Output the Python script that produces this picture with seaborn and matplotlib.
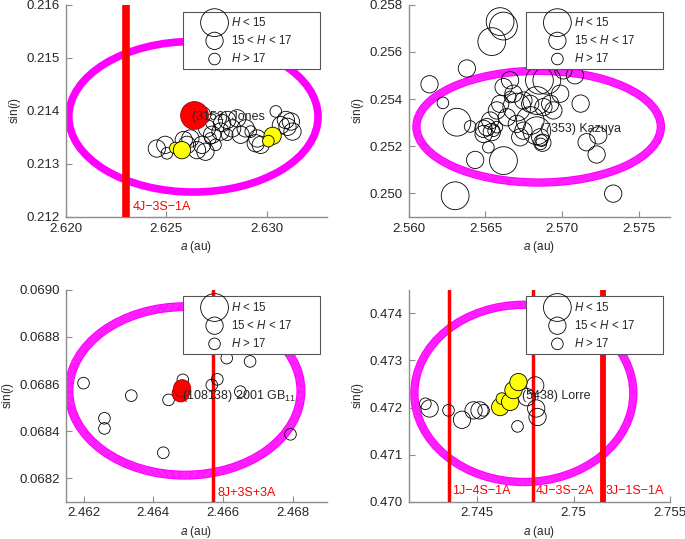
import pandas as pd
import matplotlib.pyplot as plt
import seaborn as sns
from matplotlib.patches import Ellipse
from matplotlib.ticker import FormatStrFormatter

# ── H classes (legend labels) ─────────────────────────────────
BIG = "$H$ < 15"
MID = "15 < $H$ < 17"
SML = "$H$ > 17"
H_ORDER = [BIG, MID, SML]

# ── Panel 1: (3152) Jones ─────────────────────────────────────
jones_a = [2.62453, 2.62495, 2.62503, 2.62587, 2.62620, 2.62603, 2.62678, 2.62695,
           2.62720, 2.62728, 2.62703, 2.62737, 2.62778, 2.62803, 2.62828, 2.62853,
           2.62870, 2.62895, 2.62920, 2.62953, 2.62945, 2.62970, 2.63045, 2.63070,
           2.63095, 2.63103, 2.63128, 2.63120, 2.62678, 2.62770, 2.62653, 2.62803,
           2.62745]
jones_sini = [0.21329, 0.21336, 0.21320, 0.21345, 0.21348, 0.21336, 0.21336, 0.21323,
              0.21348, 0.21355, 0.21367, 0.21380, 0.21377, 0.21383, 0.21367, 0.21386,
              0.21355, 0.21367, 0.21361, 0.21348, 0.21339, 0.21336, 0.21399, 0.21373,
              0.21383, 0.21370, 0.21361, 0.21380, 0.21392, 0.21361, 0.21326, 0.21355,
              0.21336]
jones_h = [MID, MID, SML, MID, MID, MID, MID, MID, SML, MID, MID, MID, MID, MID, MID, MID,
           MID, MID, SML, MID, MID, MID, SML, MID, MID, MID, MID, MID, MID, MID, MID, SML,
           SML]
jones_yel_a = [2.62545, 2.62578, 2.63029, 2.63008]
jones_yel_sini = [0.21330, 0.21326, 0.21353, 0.21343]
jones_yel_h = [SML, MID, MID, SML]
jones_red_a = [2.62637]
jones_red_sini = [0.21392]
jones_red_h = [BIG]

# ── Panel 2: (7353) Kazuya ────────────────────────────────────
kazuya_a = [2.56595, 2.56617, 2.56541, 2.56303, 2.56617, 2.56314, 2.56379, 2.56136,
            2.56433, 2.57158, 2.57223, 2.57119, 2.57234, 2.57331, 2.56223, 2.56400,
            2.56519, 2.56851, 2.57082, 2.56660, 2.56618, 2.56682, 2.56596, 2.56531,
            2.56509, 2.56553, 2.56639, 2.56704, 2.56747, 2.56791, 2.56834, 2.56877,
            2.56921, 2.56942, 2.56986, 2.56791, 2.56834, 2.56856, 2.56866, 2.56747,
            2.56704, 2.56661, 2.56899, 2.57007, 2.56726, 2.56574, 2.56488, 2.56487,
            2.56541, 2.56574, 2.56860, 2.56870]
kazuya_sini = [0.25729, 0.25710, 0.25644, 0.24990, 0.25139, 0.25302, 0.25530, 0.25463,
               0.25142, 0.25217, 0.25165, 0.25381, 0.25246, 0.24999, 0.25384, 0.25284,
               0.25196, 0.25480, 0.25501, 0.25480, 0.25451, 0.25423, 0.25380, 0.25309,
               0.25281, 0.25266, 0.25323, 0.25366, 0.25394, 0.25380, 0.25394, 0.25366,
               0.25380, 0.25352, 0.25423, 0.25309, 0.25266, 0.25238, 0.25224, 0.25266,
               0.25295, 0.25409, 0.25480, 0.25522, 0.25238, 0.25352, 0.25252, 0.25274,
               0.25260, 0.25281, 0.25210, 0.25215]
kazuya_h = [BIG, BIG, BIG, BIG, BIG, BIG, MID, MID, MID, MID, MID, MID, MID, MID, SML, SML,
            SML, BIG, MID, MID, MID, MID, MID, MID, MID, SML, MID, BIG, MID, MID, BIG, MID,
            MID, MID, MID, BIG, BIG, MID, SML, MID, MID, SML, BIG, MID, MID, MID, MID, MID,
            MID, SML, SML, MID]

# ── Panel 3: (108138) 2001 GB11 ───────────────────────────────
gb11_a = [2.46200, 2.46260, 2.46260, 2.46337, 2.46429, 2.46444, 2.46485, 2.46568,
          2.46584, 2.46611, 2.46678, 2.46650, 2.46794]
gb11_sini = [0.068604, 0.068455, 0.068412, 0.068551, 0.068309, 0.068533, 0.068618,
             0.068596, 0.068620, 0.068710, 0.068696, 0.068568, 0.068387]
gb11_h = [SML] * 13
gb11_red_a = [2.46479, 2.46483]
gb11_red_sini = [0.068561, 0.068582]
gb11_red_h = [MID, MID]

# ── Panel 4: (5438) Lorre ─────────────────────────────────────
lorre_a = [2.74231, 2.74253, 2.74351, 2.74421, 2.74481, 2.74512, 2.74533, 2.74709,
           2.74801, 2.74806, 2.74813, 2.74757, 2.74688]
lorre_sini = [0.47208, 0.47198, 0.47194, 0.47174, 0.47194, 0.47194, 0.47194, 0.47160,
              0.47247, 0.47198, 0.47180, 0.47222, 0.47233]
lorre_h = [SML, MID, SML, MID, MID, MID, SML, SML, MID, MID, MID, MID, SML]
lorre_yel_a = [2.74619, 2.74628, 2.74671, 2.74688, 2.74714]
lorre_yel_sini = [0.47201, 0.47219, 0.47212, 0.47237, 0.47254]
lorre_yel_h = [MID, SML, MID, MID, MID]

# ── Set plot style ────────────────────────────────────────────
sns.set_style("ticks")
plt.rcParams['font.family'] = ['Liberation Sans', 'DejaVu Sans']
plt.rcParams['mathtext.fontset'] = 'custom'
plt.rcParams['mathtext.rm'] = 'Liberation Sans'
plt.rcParams['mathtext.it'] = 'Liberation Sans:italic'

SIZES = {BIG: 400, MID: 155, SML: 70}
SPINE = '#8c8c8c'


def draw_ring(ax, center, width, height, lw, textured=True):
    ax.add_patch(Ellipse(center, width, height, fill=False, edgecolor='#ff00ff',
                         lw=lw, zorder=2))
    if textured:
        # fine light stripes so the ring looks like a chain of small open circles
        ax.add_patch(Ellipse(center, width, height, fill=False, edgecolor='white',
                             lw=lw - 1.5, alpha=0.4, linestyle=(0, (0.05, 0.12)),
                             zorder=2))


def draw_points(ax, a, sini, h, face, edge='black'):
    df = pd.DataFrame({'a': a, 'sini': sini, 'H': h})
    sns.scatterplot(data=df, x='a', y='sini', size='H', sizes=SIZES, size_order=H_ORDER,
                    facecolor=face, edgecolor=edge, linewidth=0.6, legend=False,
                    ax=ax, zorder=4 if face == 'none' else 5)


def setup_axes(ax, xlim, ylim, xticks, yticks, xfmt, yfmt):
    ax.set_xlim(xlim)
    ax.set_ylim(ylim)
    ax.set_xticks(xticks)
    ax.set_yticks(yticks)
    ax.xaxis.set_major_formatter(FormatStrFormatter(xfmt))
    ax.yaxis.set_major_formatter(FormatStrFormatter(yfmt))
    sns.despine(ax=ax)
    for sp in ['left', 'bottom']:
        ax.spines[sp].set_color(SPINE)
        ax.spines[sp].set_linewidth(1.0)
    ax.tick_params(direction='in', length=4, color=SPINE, labelsize=9.5, pad=4)
    ax.set_xlabel("$a$ (au)", fontsize=8.5, labelpad=3)
    ax.set_ylabel("sin($i$)", fontsize=8.5, labelpad=3)
    handles = [ax.scatter([], [], s=SIZES[k], facecolors='none', edgecolors='black',
                          linewidths=0.6, label=k) for k in H_ORDER]
    leg = ax.legend(handles=handles, loc='upper right', mode='expand',
                    bbox_to_anchor=(0.448, 0.70, 0.525, 0.268), borderaxespad=0,
                    fontsize=8.3, frameon=True, fancybox=False, framealpha=1,
                    edgecolor='#555555', labelspacing=0.45, handlelength=4.8,
                    handletextpad=-0.95, borderpad=0.35, scatterpoints=1)
    leg.get_frame().set_linewidth(0.8)
    leg.set_zorder(10)


fig, axes = plt.subplots(2, 2, figsize=(6.85, 5.39), dpi=100)
plt.subplots_adjust(left=0.096, right=0.978, bottom=0.069, top=0.991,
                    wspace=0.312, hspace=0.343)

# ── Panel 1 ───────────────────────────────────────────────────
ax = axes[0, 0]
draw_ring(ax, (2.62635, 0.21389), 0.0124, 0.00284, 5.5, textured=False)
ax.axvline(2.6230, color='#ff0000', lw=5.5, zorder=3)
ax.text(2.62335, 0.21219, "4J\u22123S\u22121A", color='#ff0000', fontsize=9,
        ha='left', va='center', zorder=6)
draw_points(ax, jones_a, jones_sini, jones_h, 'none')
draw_points(ax, jones_yel_a, jones_yel_sini, jones_yel_h, '#ffff00')
draw_points(ax, jones_red_a, jones_red_sini, jones_red_h, '#ff0000', edge='#aa0000')
ax.text(2.6263, 0.21388, "(3152) Jones", fontsize=9, ha='left', va='center', zorder=7)
setup_axes(ax, (2.620, 2.6330), (0.212, 0.216), [2.620, 2.625, 2.630],
           [0.212, 0.213, 0.214, 0.215, 0.216], '%.3f', '%.3f')

# ── Panel 2 ───────────────────────────────────────────────────
ax = axes[0, 1]
draw_ring(ax, (2.56846, 0.25283), 0.0159, 0.00474, 6)
draw_points(ax, kazuya_a, kazuya_sini, kazuya_h, 'none')
ax.text(2.56855, 0.25275, "(7353) Kazuya", fontsize=9, ha='left', va='center', zorder=7)
setup_axes(ax, (2.560, 2.5770), (0.2490, 0.2580), [2.560, 2.565, 2.570, 2.575],
           [0.250, 0.252, 0.254, 0.256, 0.258], '%.3f', '%.3f')

# ── Panel 3 ───────────────────────────────────────────────────
ax = axes[1, 0]
draw_ring(ax, (2.46491, 0.068571), 0.00666, 0.000714, 6.5)
ax.axvline(2.46573, color='#ff0000', lw=2.5, zorder=3)
ax.text(2.46584, 0.068139, "8J+3S+3A", color='#ff0000', fontsize=9,
        ha='left', va='center', zorder=6)
draw_points(ax, gb11_a, gb11_sini, gb11_h, 'none')
draw_points(ax, gb11_red_a, gb11_red_sini, gb11_red_h, '#ff0000', edge='#aa0000')
ax.text(2.46483, 0.068550, "(108138) 2001 GB$_{11}$", fontsize=9, ha='left',
        va='center', zorder=7)
setup_axes(ax, (2.46149, 2.46899), (0.068101, 0.0690), [2.462, 2.464, 2.466, 2.468],
           [0.0682, 0.0684, 0.0686, 0.0688, 0.0690], '%.3f', '%.4f')

# ── Panel 4 ───────────────────────────────────────────────────
ax = axes[1, 1]
draw_ring(ax, (2.74742, 0.47230), 0.01136, 0.00376, 6)
for xpos, lw, lab in [(2.74353, 2.5, "1J\u22124S\u22121A"),
                      (2.74788, 2.5, "4J\u22123S\u22122A"),
                      (2.75151, 4.2, "3J\u22121S\u22121A")]:
    ax.axvline(xpos, color='#ff0000', lw=lw, zorder=3)
    ax.text(xpos + 0.00017, 0.47022, lab, color='#ff0000', fontsize=9,
            ha='left', va='center', zorder=6)
draw_points(ax, lorre_a, lorre_sini, lorre_h, 'none')
draw_points(ax, lorre_yel_a, lorre_yel_sini, lorre_yel_h, '#ffff00')
ax.text(2.74731, 0.47224, "(5438) Lorre", fontsize=9, ha='left', va='center', zorder=7)
setup_axes(ax, (2.74144, 2.7550), (0.4700, 0.4745), [2.745, 2.750, 2.755],
           [0.470, 0.471, 0.472, 0.473, 0.474], '%g', '%.3f')

plt.savefig("out.png", dpi=100)
